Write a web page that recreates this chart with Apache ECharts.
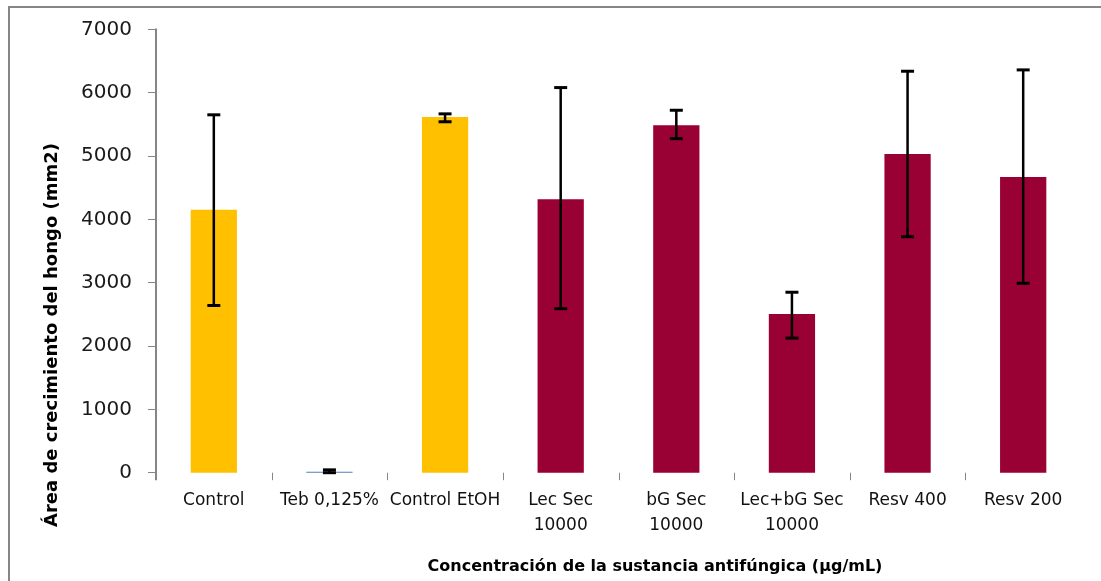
<!DOCTYPE html>
<html>
<head>
<meta charset="utf-8">
<script src="https://cdn.jsdelivr.net/npm/echarts@6/dist/echarts.min.js"></script>
<style>
  html, body { margin: 0; padding: 0; background: #fff; }
  #chart { width: 1101px; height: 581px; }
</style>
</head>
<body>
<div id="chart"></div>
<script>
const categories = ['Control', 'Teb 0,125%', 'Control EtOH', 'Lec Sec\n10000', 'bG Sec\n10000', 'Lec+bG Sec\n10000', 'Resv 400', 'Resv 200'];
const values = [4150, 15, 5617, 4318, 5486, 2506, 5032, 4669];
const errorLow = [2640, 0, 5540, 2590, 5274, 2125, 3726, 2990];
const errorHigh = [5650, 45, 5665, 6080, 5722, 2849, 6338, 6359];
const yTicks = [0, 1000, 2000, 3000, 4000, 5000, 6000, 7000];
const barColors = ['#FFC000', '#4F81BD', '#FFC000', '#990033', '#990033', '#990033', '#990033', '#990033'];

const yTitle = 'Área de crecimiento del hongo (mm2)';
const xTitle = 'Concentración de la sustancia antifúngica (µg/mL)';

const chart = echarts.init(document.getElementById('chart'), null, { renderer: 'canvas' });

const errData = categories.map((c, i) => [i, errorLow[i], errorHigh[i]]);
const tickData = categories.map((c, i) => [i, 0]);

chart.setOption({
  animation: false,
  backgroundColor: '#fff',
  grid: { left: 156, right: 20, top: 29.3, bottom: 108.3, containLabel: false },
  xAxis: {
    type: 'category',
    data: categories,
    axisLine: { show: false },
    axisTick: { show: false },
    axisLabel: {
      margin: 15,
      color: '#111',
      fontFamily: 'DejaVu Sans',
      fontSize: 17,
      lineHeight: 25,
      interval: 0
    },
    splitLine: { show: false }
  },
  yAxis: {
    type: 'value',
    min: yTicks[0],
    max: yTicks[yTicks.length - 1],
    interval: yTicks[1] - yTicks[0],
    axisLine: { show: true, lineStyle: { color: '#868686', width: 2 } },
    axisTick: { show: true, length: 8, lineStyle: { color: '#868686', width: 1 } },
    axisLabel: {
      margin: 24,
      color: '#1a1a1a',
      fontFamily: 'DejaVu Sans',
      fontSize: 20,
      formatter: function (v) { return String(v); }
    },
    splitLine: { show: false }
  },
  series: [
    {
      type: 'bar',
      barWidth: '40%',
      data: values.map((v, i) => ({ value: v, itemStyle: { color: barColors[i] } })),
      z: 2
    },
    {
      // category boundary ticks (left edge of each band), like the original
      type: 'custom',
      data: tickData,
      z: 3,
      silent: true,
      clip: false,
      renderItem: function (params, api) {
        const c = api.coord([api.value(0), api.value(1)]);
        const bw = api.size([1, 0])[0];
        const x = Math.round(c[0] - bw / 2) + 0.5;
        const isFirst = api.value(0) === 0;
        return {
          type: 'line',
          shape: { x1: isFirst ? x - 0.5 : x, y1: c[1], x2: isFirst ? x - 0.5 : x, y2: c[1] + 7.5 },
          style: { stroke: '#868686', lineWidth: isFirst ? 2 : 1 }
        };
      }
    },
    {
      type: 'custom',
      data: errData,
      z: 5,
      renderItem: function (params, api) {
        const x = api.value(0);
        const lo = api.coord([x, api.value(1)]);
        const hi = api.coord([x, api.value(2)]);
        const half = 6.5;
        const st = { stroke: '#000', lineWidth: 2.5 };
        return {
          type: 'group',
          children: [
            { type: 'line', shape: { x1: hi[0], y1: hi[1], x2: lo[0], y2: lo[1] }, style: st },
            { type: 'line', shape: { x1: hi[0] - half, y1: hi[1], x2: hi[0] + half, y2: hi[1] }, style: { stroke: '#000', lineWidth: 3 } },
            { type: 'line', shape: { x1: lo[0] - half, y1: lo[1], x2: lo[0] + half, y2: lo[1] }, style: { stroke: '#000', lineWidth: 3 } }
          ]
        };
      }
    }
  ],
  graphic: [
    {
      type: 'rect',
      shape: { x: 9, y: 7, width: 1300, height: 800 },
      style: { fill: 'none', stroke: '#868686', lineWidth: 2 },
      silent: true
    },
    {
      type: 'text',
      x: 52,
      y: 335,
      rotation: Math.PI / 2,
      style: {
        text: yTitle,
        fill: '#000',
        font: 'bold 18px "DejaVu Sans"',
        textAlign: 'center',
        textVerticalAlign: 'middle'
      }
    },
    {
      type: 'text',
      x: 655,
      y: 567,
      style: {
        text: xTitle,
        fill: '#000',
        font: 'bold 16px "DejaVu Sans"',
        textAlign: 'center',
        textVerticalAlign: 'middle'
      }
    }
  ]
});
</script>
</body>
</html>
